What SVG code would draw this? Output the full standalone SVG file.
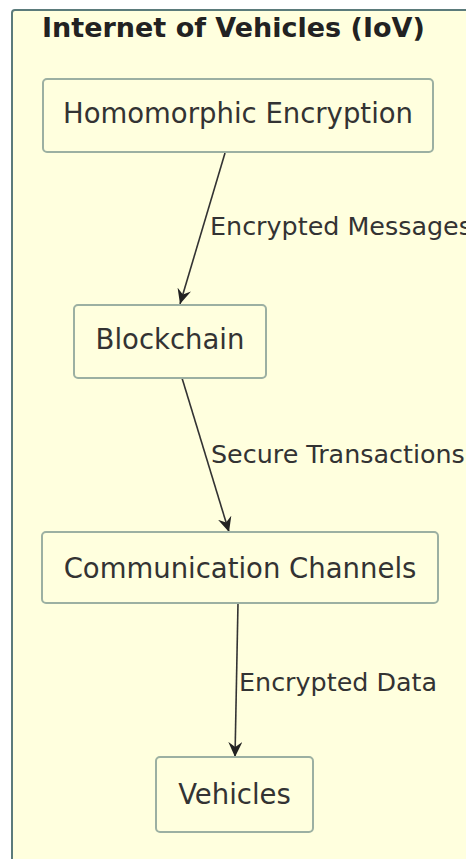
<svg xmlns="http://www.w3.org/2000/svg" width="466" height="859" viewBox="0 0 466 859">
<style>
.cluster{fill:#ffffde;stroke:#5b7b7b;stroke-width:2}
.node rect{fill:#ffffde;stroke:#9cb0a2;stroke-width:2}
.node text{font-family:"DejaVu Sans",sans-serif;font-size:27.5px;fill:#333;text-anchor:middle}
.title{font-family:"DejaVu Sans",sans-serif;font-weight:bold;font-size:27px;fill:#222}
.edge{stroke:#333;stroke-width:1.6;fill:none}
.elabel{font-family:"DejaVu Sans",sans-serif;font-size:25.4px;fill:#333}
</style>
<defs>
<marker id="arr" markerWidth="16" markerHeight="14" refX="15" refY="7" orient="auto" markerUnits="userSpaceOnUse">
<path d="M0,0 L15,7 L0,14 L5,7 Z" fill="#222"/>
</marker>
</defs>
<rect width="466" height="859" fill="#ffffff"/>
<g id="cluster-iov">
<rect class="cluster" x="12" y="10" width="470" height="870" rx="3"/>
<text class="title" x="42" y="37">Internet of Vehicles (IoV)</text>
</g>
<g id="connectors">
<line class="edge" x1="225" y1="153" x2="180" y2="304" marker-end="url(#arr)"/>
<text class="elabel" x="210" y="235">Encrypted Messages</text>
<line class="edge" x1="182" y1="378" x2="229" y2="532" marker-end="url(#arr)"/>
<text class="elabel" x="211" y="463">Secure Transactions</text>
<line class="edge" x1="238" y1="603" x2="235" y2="757" marker-end="url(#arr)"/>
<text class="elabel" x="239" y="691">Encrypted Data</text>
</g>
<g id="node-he" class="node">
<rect x="43" y="79" width="390" height="73" rx="4"/>
<text x="238" y="123">Homomorphic Encryption</text>
</g>
<g id="node-bc" class="node">
<rect x="74" y="305" width="192" height="73" rx="4"/>
<text x="170" y="349">Blockchain</text>
</g>
<g id="node-cc" class="node">
<rect x="42" y="532" width="396" height="71" rx="4"/>
<text x="240" y="578">Communication Channels</text>
</g>
<g id="node-v" class="node">
<rect x="156" y="757" width="157" height="75" rx="4"/>
<text x="234.5" y="804">Vehicles</text>
</g>
</svg>
